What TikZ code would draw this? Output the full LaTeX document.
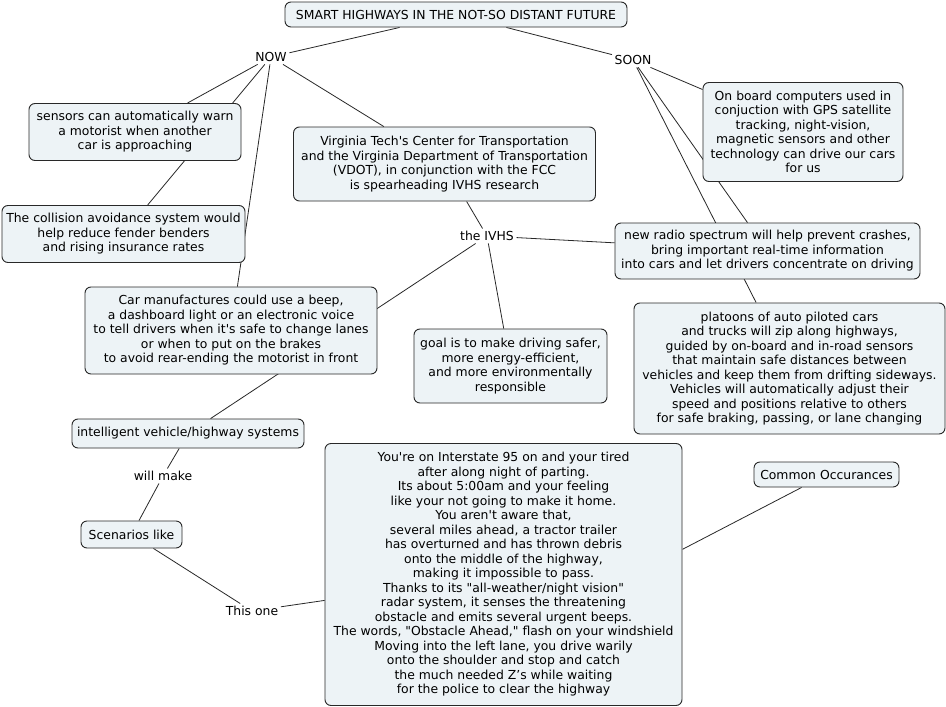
\documentclass[tikz,border=0pt]{standalone}
\usepackage{fontspec}
\setmainfont{DejaVu Sans}[Ligatures=TeXOff]
\definecolor{boxfill}{RGB}{237,243,246}
\definecolor{edge}{RGB}{40,40,40}
\pgfdeclarelayer{bg}
\pgfdeclarelayer{paper}
\pgfsetlayers{paper,bg,main}
\tikzset{
  box/.style={draw=edge, fill=boxfill, rounded corners=6pt, align=center,
    inner sep=0pt, line width=0.9pt, font=\fontsize{12.4}{14.5}\selectfont},
  lbl/.style={inner sep=2.5pt, font=\fontsize{12.4}{14.5}\selectfont},
  conn/.style={draw=edge, line width=0.8pt}
}
\begin{document}
\begin{tikzpicture}[x=1pt,y=-1pt]
\useasboundingbox (0,0) rectangle (946,707);
\begin{pgfonlayer}{paper}
\fill[white] (0,0) rectangle (946,707);
\end{pgfonlayer}

\node[box, minimum width=342pt, minimum height=25pt] (title) at (456,14.5) {SMART HIGHWAYS IN THE NOT-SO DISTANT FUTURE};
\node[lbl] (now) at (271,57) {NOW};
\node[lbl] (soon) at (633,60) {SOON};
\node[box, minimum width=212pt, minimum height=57pt] (sensors) at (135,132) {sensors can automatically warn\\a motorist when another\\car is approaching};
\node[box, minimum width=243pt, minimum height=57pt] (collision) at (123.5,234) {The collision avoidance system would\\help reduce fender benders\\and rising insurance rates};
\node[box, minimum width=302pt, minimum height=74pt] (vt) at (444.5,164) {Virginia Tech's Center for Transportation\\and the Virginia Department of Transportation\\(VDOT), in conjunction with the FCC\\is spearheading IVHS research};
\node[lbl] (ivhs) at (487,236) {the IVHS};
\node[box, minimum width=200pt, minimum height=99pt] (onboard) at (803,132) {On board computers used in\\conjuction with GPS satellite\\tracking, night-vision,\\magnetic sensors and other\\technology can drive our cars\\for us};
\node[box, minimum width=305pt, minimum height=56pt] (radio) at (767.5,251) {new radio spectrum will help prevent crashes,\\bring important real-time information\\into cars and let drivers concentrate on driving};
\node[box, minimum width=311pt, minimum height=131pt] (platoons) at (789.5,368.5) {platoons of auto piloted cars\\and trucks will zip along highways,\\guided by on-board and in-road sensors\\that maintain safe distances between\\vehicles and keep them from drifting sideways.\\Vehicles will automatically adjust their\\speed and positions relative to others\\for safe braking, passing, or lane changing};
\node[box, minimum width=193pt, minimum height=74pt] (goal) at (510.5,366) {goal is to make driving safer,\\more energy-efficient,\\and more environmentally\\responsible};
\node[box, minimum width=292pt, minimum height=87pt] (car) at (231,330.5) {Car manufactures could use a beep,\\a dashboard light or an electronic voice\\to tell drivers when it's safe to change lanes\\or when to put on the brakes\\to avoid rear-ending the motorist in front};
\node[box, minimum width=232pt, minimum height=29pt] (ivs) at (188,433.5) {intelligent vehicle/highway systems};
\node[lbl] (willmake) at (163,476) {will make};
\node[box, minimum width=101pt, minimum height=27pt] (scen) at (131.5,534.5) {Scenarios like};
\node[lbl] (thisone) at (252,611) {This one};
\node[box, minimum width=357pt, minimum height=262pt] (story) at (503.5,574.5) {You're on Interstate 95 on and your tired\\after along night of parting.\\Its about 5:00am and your feeling\\like your not going to make it home.\\You aren't aware that,\\several miles ahead, a tractor trailer\\has overturned and has thrown debris\\onto the middle of the highway,\\making it impossible to pass.\\Thanks to its "all-weather/night vision"\\radar system, it senses the threatening\\obstacle and emits several urgent beeps.\\The words, "Obstacle Ahead," flash on your windshield\\Moving into the left lane, you drive warily\\onto the shoulder and stop and catch\\the much needed Z’s while waiting\\for the police to clear the highway};
\node[box, minimum width=145pt, minimum height=25pt] (common) at (826.5,474.5) {Common Occurances};

\begin{pgfonlayer}{bg}
\draw[conn] (title) -- (now);
\draw[conn] (title) -- (soon);
\draw[conn] (now) -- (sensors);
\draw[conn] (now) -- (collision);
\draw[conn] (now) -- (car);
\draw[conn] (now) -- (vt);
\draw[conn] (vt) -- (ivhs);
\draw[conn] (ivhs) -- (radio);
\draw[conn] (ivhs) -- (goal);
\draw[conn] (ivhs) -- (ivs);
\draw[conn] (soon) -- (onboard);
\draw[conn] (soon) -- (radio);
\draw[conn] (soon) -- (platoons);
\draw[conn] (ivs) -- (willmake);
\draw[conn] (willmake) -- (scen);
\draw[conn] (scen) -- (thisone);
\draw[conn] (thisone) -- (story);
\draw[conn] (story.8.3) -- (common);
\end{pgfonlayer}
\end{tikzpicture}
\end{document}
